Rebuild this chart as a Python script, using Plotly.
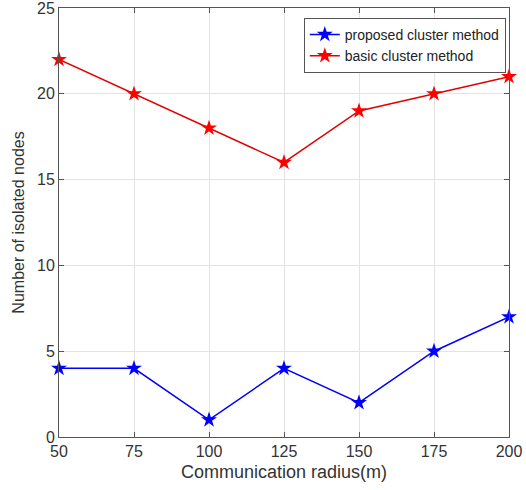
import plotly.graph_objects as go

radius = [50, 75, 100, 125, 150, 175, 200]
proposed = [4, 4, 1, 4, 2, 5, 7]
basic = [22, 20, 18, 16, 19, 20, 21]
x_ticks = [50, 75, 100, 125, 150, 175, 200]
y_ticks = [0, 5, 10, 15, 20, 25]

fig = go.Figure()
fig.add_trace(go.Scatter(x=radius, y=proposed, mode="lines+markers", name="proposed cluster method",
                         line=dict(color="#0000FF", width=1.5),
                         marker=dict(symbol="star", size=12, color="#0000FF"), cliponaxis=False))
fig.add_trace(go.Scatter(x=radius, y=basic, mode="lines+markers", name="basic cluster method",
                         line=dict(color="#E00000", width=1.5),
                         marker=dict(symbol="star", size=12, color="#FF0000"), cliponaxis=False))

axis_common = dict(showgrid=True, gridcolor="#E3E3E3", gridwidth=1, showline=True, linecolor="#555555",
                   linewidth=1, mirror="ticks", ticks="inside", ticklen=5, tickcolor="#555555",
                   zeroline=False, automargin=False, ticklabeloverflow="allow",
                   tickfont=dict(family="Liberation Sans, Arial", size=16, color="#333333"))

fig.update_layout(
    width=526, height=490,
    margin=dict(l=59, r=17, t=8, b=53),
    paper_bgcolor="white", plot_bgcolor="white",
    font=dict(family="Liberation Sans, Arial", color="#333333"),
    xaxis=dict(range=[50, 200], tickvals=x_ticks,
               title=dict(text="Communication radius(m)", font=dict(size=18), standoff=6), **axis_common),
    yaxis=dict(range=[0, 25], tickvals=y_ticks,
               title=dict(text="Number of isolated nodes", font=dict(size=16), standoff=8), **axis_common),
    legend=dict(x=0.544, y=0.977, xanchor="left", yanchor="top", bgcolor="white",
                bordercolor="#555555", borderwidth=1, font=dict(size=14, color="#222222"),
                tracegroupgap=0, itemwidth=30),
    showlegend=True,
)
fig.write_html("out.html", config={"displayModeBar": False},
               post_script="document.body.style.margin='0';")
